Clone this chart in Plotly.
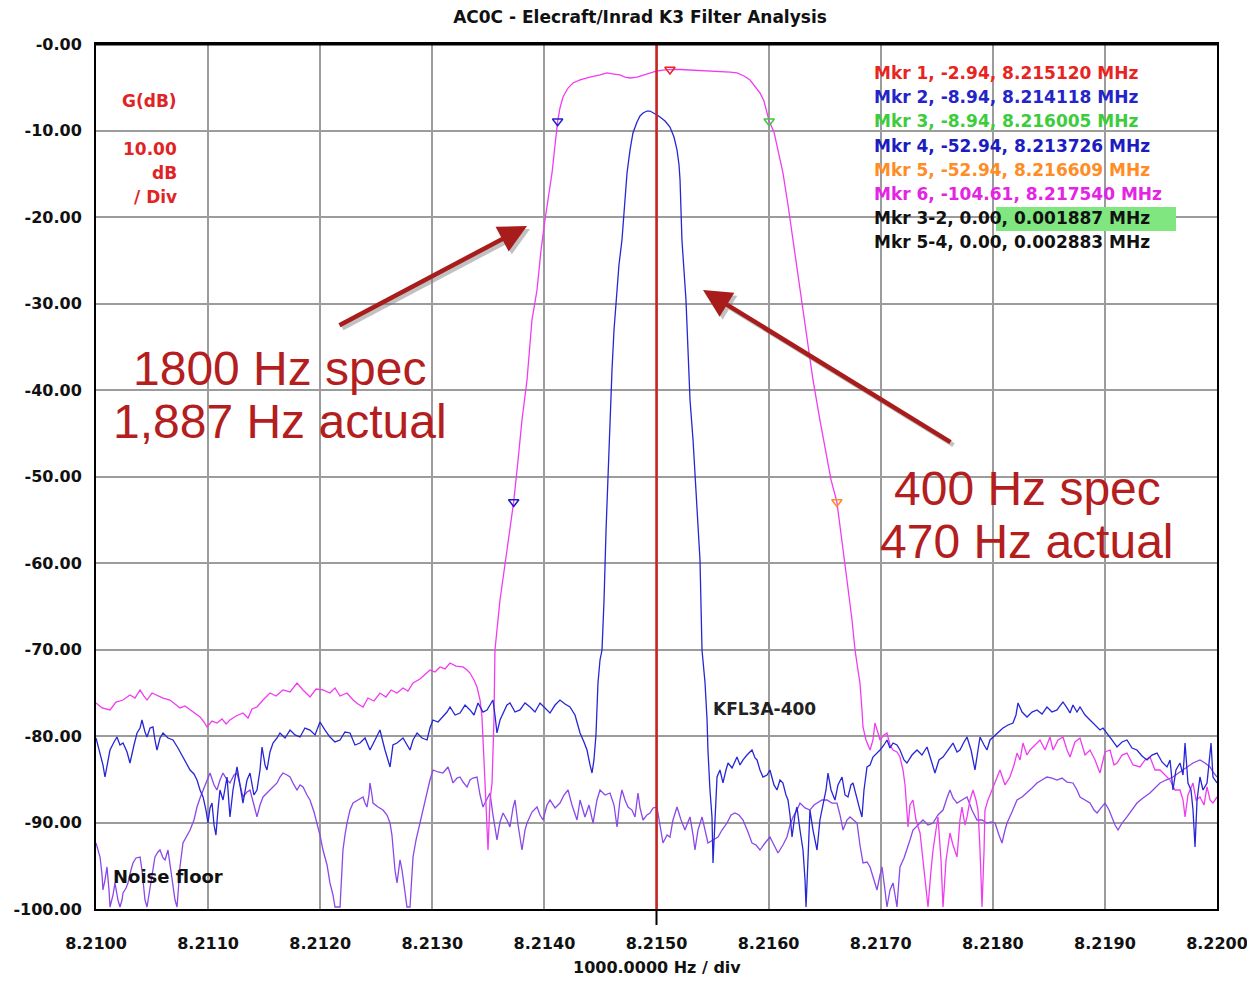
import plotly.graph_objects as go

# ---------------- DATA (frequency in MHz, gain in dB) ----------------
mag_f = [8.210000, 8.210054, 8.210125, 8.210178, 8.210241, 8.210303, 8.210348, 8.210393, 8.210428, 8.210455,
         8.210500, 8.210544, 8.210598, 8.210660, 8.210705, 8.210749, 8.210794, 8.210839, 8.210883, 8.210928,
         8.210963, 8.210990, 8.211035, 8.211079, 8.211124, 8.211160, 8.211195, 8.211249, 8.211311, 8.211356,
         8.211392, 8.211436, 8.211490, 8.211552, 8.211606, 8.211668, 8.211731, 8.211793, 8.211847, 8.211909,
         8.211963, 8.212025, 8.212087, 8.212132, 8.212177, 8.212239, 8.212293, 8.212337, 8.212382, 8.212426,
         8.212480, 8.212533, 8.212587, 8.212632, 8.212685, 8.212739, 8.212783, 8.212828, 8.212890, 8.212935,
         8.212979, 8.213024, 8.213069, 8.213113, 8.213158, 8.213211, 8.213274, 8.213310, 8.213336, 8.213372,
         8.213399, 8.213426, 8.213443, 8.213461, 8.213479, 8.213497, 8.213515, 8.213533, 8.213550, 8.213559,
         8.213604, 8.213657, 8.213726, 8.213765, 8.213800, 8.213845, 8.213889, 8.213934, 8.213970, 8.214005,
         8.214032, 8.214068, 8.214095, 8.214118, 8.214139, 8.214166, 8.214211, 8.214255, 8.214318, 8.214407,
         8.214496, 8.214558, 8.214621, 8.214674, 8.214719, 8.214764, 8.214826, 8.214880, 8.214942, 8.215004,
         8.215058, 8.215120, 8.215210, 8.215299, 8.215388, 8.215477, 8.215566, 8.215656, 8.215718, 8.215781,
         8.215834, 8.215879, 8.215923, 8.215959, 8.216005, 8.216048, 8.216084, 8.216128, 8.216173, 8.216218,
         8.216253, 8.216298, 8.216351, 8.216396, 8.216458, 8.216512, 8.216557, 8.216609, 8.216655, 8.216699,
         8.216744, 8.216771, 8.216797, 8.216815, 8.216833, 8.216842, 8.216869, 8.216905, 8.216931, 8.216949,
         8.216976, 8.216994, 8.217029, 8.217056, 8.217083, 8.217110, 8.217145, 8.217172, 8.217199, 8.217217,
         8.217244, 8.217261, 8.217288, 8.217315, 8.217351, 8.217386, 8.217422, 8.217449, 8.217467, 8.217493,
         8.217511, 8.217538, 8.217556, 8.217583, 8.217618, 8.217645, 8.217681, 8.217707, 8.217725, 8.217752,
         8.217770, 8.217797, 8.217823, 8.217850, 8.217868, 8.217886, 8.217904, 8.217922, 8.217930, 8.217957,
         8.217993, 8.218029, 8.218064, 8.218109, 8.218153, 8.218189, 8.218216, 8.218243, 8.218269, 8.218305,
         8.218332, 8.218377, 8.218421, 8.218466, 8.218510, 8.218537, 8.218582, 8.218626, 8.218662, 8.218689,
         8.218733, 8.218778, 8.218823, 8.218867, 8.218912, 8.218956, 8.219001, 8.219046, 8.219081, 8.219108,
         8.219153, 8.219197, 8.219251, 8.219313, 8.219358, 8.219402, 8.219447, 8.219492, 8.219536, 8.219581,
         8.219625, 8.219670, 8.219697, 8.219715, 8.219741, 8.219786, 8.219813, 8.219848, 8.219884, 8.219911,
         8.219938, 8.219964, 8.220000]
mag_db = [-76.18, -76.76, -76.99, -76.07, -75.84, -75.26, -75.61, -74.68, -75.38, -75.84,
          -75.03, -75.26, -75.61, -75.84, -76.30, -76.76, -76.53, -76.99, -77.34, -77.80,
          -78.38, -78.96, -78.27, -78.50, -78.03, -78.61, -78.15, -77.69, -77.34, -77.92,
          -76.88, -76.65, -75.84, -75.03, -75.38, -74.68, -74.91, -73.87, -74.68, -75.49,
          -74.57, -74.68, -75.03, -74.45, -75.38, -75.03, -75.84, -76.30, -76.65, -75.61,
          -75.95, -75.03, -75.49, -74.68, -75.03, -74.45, -74.80, -73.87, -73.41, -72.83,
          -72.37, -72.60, -72.02, -72.25, -71.56, -71.91, -72.02, -72.37, -72.72, -73.53,
          -74.34, -75.84, -77.80, -82.77, -87.40, -93.18, -87.40, -85.43, -78.15, -70.06,
          -64.28, -59.08, -52.94, -48.09, -43.47, -38.84, -31.91, -28.44, -23.82, -20.35,
          -18.03, -14.91, -11.68, -8.94, -7.40, -6.13, -5.09, -4.51, -4.16, -3.82,
          -3.58, -3.35, -3.47, -3.58, -3.82, -3.93, -3.82, -3.58, -3.35, -3.12,
          -3.01, -2.94, -2.95, -3.01, -3.01, -3.06, -3.12, -3.24, -3.35, -3.70,
          -4.16, -4.86, -5.66, -6.59, -8.94, -10.17, -12.25, -14.91, -18.61, -22.66,
          -25.55, -29.60, -34.22, -38.84, -43.47, -47.51, -50.40, -52.94, -57.34, -61.97,
          -66.59, -70.06, -72.37, -73.87, -76.99, -78.96, -80.46, -81.62, -80.46, -78.50,
          -79.65, -80.46, -79.88, -79.65, -81.04, -81.62, -81.85, -82.43, -83.93, -85.66,
          -90.52, -87.98, -87.40, -89.71, -91.21, -95.49, -99.77, -95.49, -93.18, -90.87,
          -89.36, -94.33, -99.77, -94.33, -91.21, -92.60, -93.99, -89.71, -88.21, -90.29,
          -89.36, -87.40, -86.24, -87.40, -88.56, -93.18, -99.77, -93.18, -88.56, -87.40,
          -86.24, -85.09, -83.93, -85.66, -84.74, -83.35, -81.97, -82.77, -80.81, -82.20,
          -81.62, -81.04, -80.46, -81.62, -80.12, -81.62, -80.46, -80.12, -81.62, -82.43,
          -80.69, -80.23, -82.20, -81.62, -82.77, -84.28, -81.85, -81.62, -83.35, -83.12,
          -82.20, -81.97, -83.35, -83.58, -82.77, -82.43, -83.93, -83.93, -84.51, -85.09,
          -86.24, -86.24, -87.40, -89.36, -86.82, -85.43, -87.40, -87.05, -87.98, -85.89,
          -87.40, -87.75, -87.05]

blue_f = [8.210000, 8.210036, 8.210062, 8.210080, 8.210107, 8.210125, 8.210161, 8.210187, 8.210214, 8.210241,
          8.210277, 8.210303, 8.210339, 8.210366, 8.210393, 8.210410, 8.210437, 8.210455, 8.210482, 8.210508,
          8.210526, 8.210544, 8.210571, 8.210598, 8.210642, 8.210687, 8.210731, 8.210776, 8.210812, 8.210839,
          8.210874, 8.210901, 8.210928, 8.210955, 8.210981, 8.210999, 8.211017, 8.211035, 8.211053, 8.211070,
          8.211088, 8.211106, 8.211133, 8.211169, 8.211195, 8.211222, 8.211258, 8.211285, 8.211311, 8.211347,
          8.211374, 8.211409, 8.211436, 8.211463, 8.211481, 8.211508, 8.211525, 8.211552, 8.211579, 8.211615,
          8.211641, 8.211686, 8.211731, 8.211775, 8.211820, 8.211864, 8.211909, 8.211954, 8.211998, 8.212043,
          8.212087, 8.212132, 8.212177, 8.212221, 8.212266, 8.212310, 8.212355, 8.212400, 8.212444, 8.212489,
          8.212533, 8.212578, 8.212623, 8.212649, 8.212685, 8.212739, 8.212801, 8.212828, 8.212864, 8.212908,
          8.212953, 8.212979, 8.213006, 8.213051, 8.213095, 8.213131, 8.213158, 8.213203, 8.213247, 8.213292,
          8.213336, 8.213372, 8.213408, 8.213452, 8.213488, 8.213515, 8.213541, 8.213559, 8.213577, 8.213604,
          8.213631, 8.213666, 8.213693, 8.213738, 8.213782, 8.213827, 8.213872, 8.213916, 8.213961, 8.214005,
          8.214050, 8.214095, 8.214139, 8.214184, 8.214228, 8.214273, 8.214318, 8.214353, 8.214380, 8.214407,
          8.214425, 8.214442, 8.214460, 8.214478, 8.214496, 8.214514, 8.214532, 8.214550, 8.214567, 8.214585,
          8.214603, 8.214621, 8.214639, 8.214665, 8.214692, 8.214719, 8.214737, 8.214764, 8.214790, 8.214826,
          8.214853, 8.214880, 8.214915, 8.214942, 8.214978, 8.215004, 8.215031, 8.215076, 8.215120, 8.215156,
          8.215183, 8.215201, 8.215210, 8.215227, 8.215245, 8.215263, 8.215281, 8.215299, 8.215326, 8.215343,
          8.215370, 8.215388, 8.215406, 8.215433, 8.215451, 8.215459, 8.215477, 8.215495, 8.215504, 8.215522,
          8.215540, 8.215566, 8.215593, 8.215620, 8.215638, 8.215674, 8.215718, 8.215745, 8.215772, 8.215807,
          8.215852, 8.215879, 8.215897, 8.215923, 8.215950, 8.215986, 8.216012, 8.216048, 8.216075, 8.216102,
          8.216128, 8.216155, 8.216173, 8.216191, 8.216209, 8.216235, 8.216253, 8.216280, 8.216307, 8.216325,
          8.216334, 8.216351, 8.216369, 8.216396, 8.216432, 8.216458, 8.216485, 8.216512, 8.216530, 8.216557,
          8.216592, 8.216619, 8.216655, 8.216682, 8.216708, 8.216735, 8.216753, 8.216789, 8.216815, 8.216833,
          8.216851, 8.216878, 8.216905, 8.216931, 8.216967, 8.216994, 8.217029, 8.217056, 8.217083, 8.217110,
          8.217145, 8.217172, 8.217208, 8.217234, 8.217279, 8.217324, 8.217368, 8.217413, 8.217449, 8.217484,
          8.217520, 8.217556, 8.217600, 8.217645, 8.217681, 8.217707, 8.217743, 8.217770, 8.217806, 8.217841,
          8.217868, 8.217886, 8.217922, 8.217948, 8.217975, 8.218002, 8.218046, 8.218091, 8.218136, 8.218180,
          8.218207, 8.218225, 8.218261, 8.218305, 8.218350, 8.218394, 8.218439, 8.218483, 8.218528, 8.218573,
          8.218599, 8.218626, 8.218662, 8.218689, 8.218715, 8.218751, 8.218778, 8.218823, 8.218867, 8.218912,
          8.218956, 8.218983, 8.219019, 8.219063, 8.219108, 8.219153, 8.219197, 8.219242, 8.219286, 8.219331,
          8.219376, 8.219420, 8.219465, 8.219509, 8.219554, 8.219581, 8.219607, 8.219634, 8.219670, 8.219697,
          8.219715, 8.219741, 8.219768, 8.219786, 8.219804, 8.219822, 8.219848, 8.219875, 8.219911, 8.219929,
          8.219947, 8.219964, 8.220000]
blue_db = [-80.23, -81.97, -83.35, -84.74, -82.77, -81.62, -80.69, -80.12, -81.04, -80.81,
           -81.85, -83.12, -81.04, -79.65, -79.08, -78.15, -79.54, -80.12, -79.08, -78.96,
           -80.46, -81.62, -80.23, -79.65, -80.23, -80.46, -81.39, -82.43, -83.24, -83.93,
           -84.39, -85.09, -86.24, -87.05, -88.56, -90.06, -88.32, -87.75, -90.29, -91.45,
           -88.56, -86.24, -87.40, -84.74, -89.36, -86.24, -83.58, -85.66, -87.75, -85.09,
           -84.28, -86.82, -86.24, -83.93, -81.27, -83.35, -83.93, -81.85, -80.81, -80.23,
           -79.65, -80.23, -79.31, -79.88, -80.12, -79.08, -79.31, -79.88, -78.38, -79.31,
           -80.12, -80.69, -80.46, -79.54, -79.65, -81.04, -80.81, -80.23, -81.62, -80.46,
           -79.31, -81.62, -83.58, -81.04, -80.81, -80.23, -81.62, -80.46, -79.65, -80.23,
           -80.46, -79.08, -78.15, -78.38, -77.80, -77.23, -76.65, -77.57, -77.34, -76.42,
           -76.99, -77.57, -76.18, -77.23, -76.99, -76.42, -75.84, -77.57, -79.65, -78.15,
           -77.34, -76.42, -76.18, -77.23, -76.99, -76.18, -76.65, -77.23, -76.18, -76.76,
           -77.34, -76.42, -75.84, -76.30, -76.65, -77.57, -79.65, -80.69, -81.62, -83.35,
           -84.28, -82.77, -79.88, -73.87, -71.21, -70.06, -64.28, -56.18, -49.94, -43.47,
           -37.69, -33.06, -29.60, -25.55, -22.66, -18.03, -14.91, -12.25, -10.29, -9.02,
           -8.32, -7.98, -7.75, -7.75, -7.98, -8.21, -8.44, -8.90, -9.60, -10.75,
           -12.25, -13.99, -15.72, -22.66, -26.13, -29.60, -35.38, -41.16, -45.78, -49.94,
           -55.03, -59.65, -70.06, -73.87, -78.15, -81.62, -86.24, -89.36, -94.68, -89.71,
           -84.74, -83.93, -85.43, -83.93, -83.12, -83.70, -82.43, -83.35, -82.77, -82.20,
           -81.62, -82.54, -82.77, -83.93, -84.74, -84.51, -83.93, -85.66, -86.24, -85.09,
           -85.43, -86.82, -87.40, -89.13, -91.68, -89.13, -88.21, -90.87, -93.18, -96.65,
           -99.77, -94.33, -88.56, -90.87, -93.18, -89.71, -87.75, -86.24, -84.28, -86.24,
           -87.40, -85.66, -84.74, -86.82, -87.05, -85.66, -85.43, -87.40, -88.56, -89.36,
           -86.24, -83.58, -83.35, -82.43, -81.97, -81.62, -81.04, -80.46, -81.39, -80.81,
           -81.04, -81.62, -82.77, -83.12, -82.20, -81.62, -82.20, -81.27, -82.77, -84.28,
           -82.77, -82.43, -81.62, -80.81, -81.85, -81.62, -80.69, -80.12, -81.62, -83.93,
           -81.62, -80.12, -81.04, -81.62, -80.46, -80.12, -79.65, -79.08, -78.73, -78.50,
           -77.57, -76.18, -77.23, -77.80, -77.23, -76.99, -77.46, -76.65, -77.23, -76.99,
           -76.53, -76.07, -76.76, -77.34, -76.42, -77.23, -76.65, -77.57, -78.15, -78.73,
           -79.31, -79.08, -79.65, -80.46, -81.27, -80.69, -80.46, -81.39, -81.62, -82.31,
           -82.77, -82.20, -81.97, -83.00, -83.58, -82.77, -86.24, -83.93, -83.12, -84.51,
           -80.81, -85.43, -86.24, -88.56, -92.83, -87.40, -84.74, -86.24, -85.43, -82.77,
           -80.81, -84.74, -85.43]

floor_f = [8.210000, 8.210018, 8.210036, 8.210054, 8.210062, 8.210080, 8.210098, 8.210116, 8.210125, 8.210152,
           8.210169, 8.210196, 8.210214, 8.210232, 8.210241, 8.210268, 8.210285, 8.210312, 8.210330, 8.210357,
           8.210393, 8.210410, 8.210419, 8.210437, 8.210455, 8.210473, 8.210482, 8.210508, 8.210526, 8.210553,
           8.210571, 8.210598, 8.210616, 8.210642, 8.210660, 8.210678, 8.210705, 8.210723, 8.210740, 8.210749,
           8.210776, 8.210803, 8.210839, 8.210874, 8.210901, 8.210928, 8.210955, 8.210990, 8.211017, 8.211053,
           8.211079, 8.211106, 8.211133, 8.211169, 8.211195, 8.211231, 8.211258, 8.211285, 8.211311, 8.211347,
           8.211374, 8.211409, 8.211436, 8.211463, 8.211490, 8.211525, 8.211552, 8.211588, 8.211615, 8.211641,
           8.211668, 8.211704, 8.211731, 8.211766, 8.211793, 8.211820, 8.211847, 8.211882, 8.211909, 8.211945,
           8.211971, 8.211998, 8.212025, 8.212061, 8.212087, 8.212114, 8.212132, 8.212159, 8.212177, 8.212194,
           8.212203, 8.212221, 8.212239, 8.212266, 8.212293, 8.212337, 8.212382, 8.212400, 8.212417, 8.212435,
           8.212444, 8.212462, 8.212471, 8.212516, 8.212560, 8.212596, 8.212623, 8.212640, 8.212649, 8.212667,
           8.212685, 8.212703, 8.212712, 8.212730, 8.212739, 8.212756, 8.212774, 8.212801, 8.212819, 8.212828,
           8.212855, 8.212890, 8.212917, 8.212953, 8.212979, 8.213006, 8.213051, 8.213095, 8.213140, 8.213158,
           8.213185, 8.213220, 8.213247, 8.213274, 8.213310, 8.213336, 8.213363, 8.213399, 8.213426, 8.213452,
           8.213488, 8.213515, 8.213541, 8.213577, 8.213604, 8.213631, 8.213666, 8.213693, 8.213720, 8.213738,
           8.213765, 8.213800, 8.213827, 8.213845, 8.213889, 8.213934, 8.213961, 8.213988, 8.214023, 8.214050,
           8.214095, 8.214139, 8.214175, 8.214211, 8.214246, 8.214291, 8.214318, 8.214362, 8.214398, 8.214434,
           8.214469, 8.214496, 8.214541, 8.214585, 8.214621, 8.214648, 8.214674, 8.214692, 8.214719, 8.214746,
           8.214781, 8.214808, 8.214835, 8.214853, 8.214880, 8.214915, 8.214942, 8.214969, 8.215004, 8.215031,
           8.215058, 8.215094, 8.215120, 8.215147, 8.215183, 8.215219, 8.215254, 8.215281, 8.215299, 8.215326,
           8.215343, 8.215370, 8.215406, 8.215433, 8.215459, 8.215504, 8.215549, 8.215584, 8.215629, 8.215665,
           8.215700, 8.215736, 8.215772, 8.215816, 8.215852, 8.215888, 8.215923, 8.215968, 8.216012, 8.216048,
           8.216084, 8.216128, 8.216164, 8.216191, 8.216218, 8.216253, 8.216280, 8.216325, 8.216369, 8.216405,
           8.216432, 8.216476, 8.216521, 8.216566, 8.216610, 8.216637, 8.216664, 8.216699, 8.216726, 8.216762,
           8.216789, 8.216815, 8.216842, 8.216878, 8.216905, 8.216940, 8.216967, 8.216994, 8.217012, 8.217038,
           8.217056, 8.217083, 8.217110, 8.217128, 8.217145, 8.217163, 8.217172, 8.217208, 8.217234, 8.217261,
           8.217288, 8.217333, 8.217377, 8.217422, 8.217467, 8.217511, 8.217556, 8.217591, 8.217618, 8.217645,
           8.217681, 8.217725, 8.217770, 8.217814, 8.217859, 8.217904, 8.217948, 8.217984, 8.218020, 8.218055,
           8.218082, 8.218109, 8.218127, 8.218171, 8.218216, 8.218261, 8.218305, 8.218350, 8.218394, 8.218439,
           8.218483, 8.218528, 8.218573, 8.218617, 8.218662, 8.218715, 8.218751, 8.218778, 8.218823, 8.218867,
           8.218903, 8.218930, 8.218965, 8.219001, 8.219037, 8.219063, 8.219090, 8.219117, 8.219153, 8.219197,
           8.219242, 8.219286, 8.219340, 8.219402, 8.219447, 8.219492, 8.219545, 8.219607, 8.219670, 8.219732,
           8.219786, 8.219848, 8.219893, 8.219938, 8.219964, 8.220000]
floor_db = [-92.37, -93.18, -93.99, -96.07, -97.80, -96.65, -95.14, -97.80, -99.77, -98.38,
            -96.99, -98.96, -99.77, -98.96, -98.15, -97.57, -96.99, -95.49, -94.68, -94.10,
            -93.99, -95.49, -96.99, -98.96, -99.77, -98.38, -97.80, -95.49, -93.99, -93.41,
            -93.18, -94.10, -94.33, -93.18, -94.91, -96.99, -98.96, -99.77, -96.65, -95.14,
            -92.37, -91.79, -90.87, -89.71, -88.21, -87.17, -86.24, -85.09, -84.28, -85.66,
            -86.24, -85.09, -84.28, -85.09, -85.43, -84.51, -84.28, -85.66, -87.05, -86.47,
            -86.24, -87.98, -89.36, -87.98, -87.05, -86.59, -86.24, -85.78, -85.43, -84.74,
            -84.28, -84.51, -84.74, -85.66, -86.24, -85.66, -85.90, -86.82, -87.40, -88.79,
            -90.06, -91.45, -93.18, -94.91, -96.99, -98.38, -99.77, -99.77, -99.77, -95.49,
            -93.18, -91.45, -90.06, -88.56, -87.75, -87.40, -87.05, -87.75, -88.21, -86.82,
            -85.43, -86.82, -87.75, -88.21, -88.56, -89.13, -90.06, -91.45, -93.18, -95.49,
            -96.99, -95.26, -94.33, -95.49, -96.30, -98.38, -99.77, -99.77, -96.07, -93.99,
            -92.02, -90.06, -88.32, -86.59, -85.09, -83.93, -84.16, -84.28, -83.58, -84.28,
            -85.43, -84.86, -84.74, -85.32, -85.90, -85.09, -84.86, -84.74, -86.82, -88.21,
            -87.17, -86.59, -89.13, -92.02, -89.94, -88.90, -89.71, -90.52, -88.32, -87.40,
            -90.29, -93.18, -90.87, -90.06, -88.79, -88.21, -89.13, -89.71, -87.98, -87.40,
            -88.32, -87.75, -86.82, -86.24, -87.98, -89.71, -87.40, -89.36, -87.98, -90.06,
            -87.40, -86.24, -86.82, -86.59, -87.98, -90.52, -87.40, -86.24, -87.40, -88.21,
            -88.56, -89.36, -86.59, -88.32, -89.71, -89.13, -88.90, -88.32, -88.21, -90.29,
            -92.37, -91.45, -91.68, -89.71, -88.21, -89.71, -90.87, -89.94, -89.36, -91.45,
            -93.18, -90.87, -89.36, -90.87, -92.37, -92.02, -91.68, -90.87, -90.06, -89.13,
            -88.90, -89.13, -89.71, -91.10, -92.37, -92.60, -93.18, -92.37, -91.68, -92.60,
            -93.53, -92.60, -91.68, -90.29, -89.36, -88.56, -87.75, -88.32, -88.56, -87.98,
            -87.75, -87.40, -87.40, -87.75, -87.75, -89.13, -90.87, -89.71, -89.36, -89.71,
            -90.06, -92.60, -94.68, -94.57, -95.14, -96.65, -97.80, -96.07, -95.14, -97.80,
            -99.77, -97.80, -96.99, -98.38, -99.77, -96.65, -95.14, -94.10, -93.18, -92.02,
            -90.87, -90.29, -89.71, -90.29, -90.06, -89.13, -88.56, -87.17, -86.24, -87.17,
            -87.75, -87.40, -87.05, -88.56, -89.71, -89.71, -90.06, -89.94, -90.06, -91.45,
            -92.37, -90.87, -90.06, -88.79, -87.40, -87.05, -86.59, -86.01, -85.43, -85.09,
            -84.74, -84.86, -85.09, -84.86, -85.32, -85.43, -86.24, -87.05, -87.40, -87.75,
            -88.56, -88.90, -88.32, -87.75, -88.56, -89.36, -90.29, -90.87, -90.06, -89.36,
            -88.56, -87.75, -87.17, -86.59, -86.01, -85.43, -85.09, -84.74, -84.16, -83.58,
            -83.12, -82.77, -83.12, -83.58, -84.16, -84.74]

# marker readouts
mkr_names = ["Mkr 1", "Mkr 2", "Mkr 3", "Mkr 4", "Mkr 5", "Mkr 6"]
mkr_db = [-2.94, -8.94, -8.94, -52.94, -52.94, -104.61]
mkr_f = [8.215120, 8.214118, 8.216005, 8.213726, 8.216609, 8.217540]
mkr_colors = ["#e8241f", "#2424c8", "#3ccc3c", "#1c1cc0", "#ff8c24", "#e424e4"]
delta_names = ["Mkr 3-2", "Mkr 5-4"]
delta_db = [0.00, 0.00]
delta_f = [0.001887, 0.002883]

x_ticks = [8.2100, 8.2110, 8.2120, 8.2130, 8.2140, 8.2150, 8.2160, 8.2170, 8.2180, 8.2190, 8.2200]
x_ticktext = ["8.2100", "8.2110", "8.2120", "8.2130", "8.2140", "8.2150", "8.2160", "8.2170",
              "8.2180", "8.2190", "8.2200"]
y_ticks = [0, -10, -20, -30, -40, -50, -60, -70, -80, -90, -100]
y_ticktext = ["-0.00", "-10.00", "-20.00", "-30.00", "-40.00", "-50.00", "-60.00", "-70.00",
              "-80.00", "-90.00", "-100.00"]
x_title = "1000.0000 Hz / div"
center_f = 8.2150

# ---------------- layout helpers (page pixel -> axis position for text placement) ----------------
PAGE_OFF = 8            # default body margin of the html page
L, R, T, B = 96, 1217, 44, 909   # plot area in page pixels
FIG_W, FIG_H = 1255 - 2 * PAGE_OFF, 987 - 2 * PAGE_OFF

def px2x(px):
    return 8.21 + (px - L) / (R - L) * 0.01

def py2y(py):
    return -(py - T) / (B - T) * 100.0

FONT = "DejaVu Sans"
BIGFONT = "Liberation Sans"
MAG = "#f03cf0"
BLUE = "#2626d6"
PURP = "#8a48e8"

fig = go.Figure()

fig.add_trace(go.Scatter(x=floor_f, y=floor_db, mode="lines",
                         line=dict(color=PURP, width=1.3), hoverinfo="skip", showlegend=False))
fig.add_trace(go.Scatter(x=mag_f, y=mag_db, mode="lines",
                         line=dict(color=MAG, width=1.3), hoverinfo="skip", showlegend=False))
fig.add_trace(go.Scatter(x=blue_f, y=blue_db, mode="lines",
                         line=dict(color=BLUE, width=1.3), hoverinfo="skip", showlegend=False))

fig.add_trace(go.Scatter(x=mkr_f[:5], y=mkr_db[:5], mode="markers",
                         marker=dict(symbol="triangle-down-open", size=9,
                                     color=mkr_colors[:5], line=dict(width=1.5)),
                         hoverinfo="skip", showlegend=False))

shapes = []
shapes.append(dict(type="line", xref="x", yref="paper", x0=center_f, x1=center_f, y0=0, y1=1,
                   line=dict(color="#cc2222", width=2.5), layer="above"))
shapes.append(dict(type="line", xref="x", yref="paper", x0=center_f, x1=center_f,
                   y0=0, y1=-16 / (B - T), line=dict(color="black", width=2)))
shapes.append(dict(type="line", xref="paper", yref="paper", x0=0, x1=1, y0=1, y1=1,
                   line=dict(color="black", width=3)))
shapes.append(dict(type="rect", xref="x", yref="y", x0=px2x(996), x1=px2x(1176),
                   y0=py2y(207), y1=py2y(231), fillcolor="#80e680", line=dict(width=0), layer="above"))

annotations = []
lines = []
for n, d, f in zip(mkr_names, mkr_db, mkr_f):
    lines.append(f"{n}, {d:.2f}, {f:.6f} MHz")
for n, d, f in zip(delta_names, delta_db, delta_f):
    lines.append(f"{n}, {d:.2f}, {f:.6f} MHz")
line_colors = mkr_colors + ["#111111", "#111111"]
for i, (txt, col) in enumerate(zip(lines, line_colors)):
    annotations.append(dict(x=px2x(872), y=py2y(73 + i * 24.2), xref="x", yref="y",
                            text=txt, showarrow=False, xanchor="left", yanchor="middle",
                            font=dict(family=FONT, size=17, color=col, weight="bold")))

for txt, py in [("G(dB)", 101), ("10.00", 149), ("dB", 173), ("/ Div", 197)]:
    annotations.append(dict(x=px2x(179), y=py2y(py), xref="x", yref="y", text=txt,
                            showarrow=False, xanchor="right", yanchor="middle",
                            font=dict(family=FONT, size=17, color="#e02424", weight="bold")))

annotations.append(dict(x=px2x(111), y=py2y(876), xref="x", yref="y", text="Noise floor",
                        showarrow=False, xanchor="left", yanchor="middle",
                        font=dict(family=FONT, size=18, color="#111111", weight="bold")))
annotations.append(dict(x=px2x(711), y=py2y(709), xref="x", yref="y", text="KFL3A-400",
                        showarrow=False, xanchor="left", yanchor="middle",
                        font=dict(family=FONT, size=17, color="#222222", weight="bold")))

# x-axis title placed as paper-referenced text (kept fully inside the figure)
annotations.append(dict(x=(657 - L) / (R - L), y=(B - 967) / (B - T), xref="paper", yref="paper",
                        text=x_title, showarrow=False, xanchor="center", yanchor="middle",
                        font=dict(family=FONT, size=16, color="#111111", weight="bold")))

BIG = "#b41e1e"
for txt, cx, cy in [("1800 Hz spec", 280, 368), ("1,887 Hz actual", 280, 421),
                    ("400 Hz spec", 1027, 488), ("470 Hz actual", 1027, 541)]:
    annotations.append(dict(x=px2x(cx), y=py2y(cy), xref="x", yref="y", text=txt,
                            showarrow=False, xanchor="center", yanchor="middle",
                            font=dict(family=BIGFONT, size=48, color=BIG)))

for (hx, hy, tx, ty) in [(527, 226, 338, 326), (703, 290, 952, 443)]:
    annotations.append(dict(x=px2x(hx + 3), y=py2y(hy + 3), xref="x", yref="y",
                            ax=px2x(tx + 3), ay=py2y(ty + 3), axref="x", ayref="y",
                            text="", showarrow=True, arrowhead=2, arrowsize=1.25,
                            arrowwidth=4.5, arrowcolor="rgba(120,120,120,0.45)"))
    annotations.append(dict(x=px2x(hx), y=py2y(hy), xref="x", yref="y",
                            ax=px2x(tx), ay=py2y(ty), axref="x", ayref="y",
                            text="", showarrow=True, arrowhead=2, arrowsize=1.25,
                            arrowwidth=4.5, arrowcolor="#a81c1c"))

fig.update_layout(
    width=FIG_W, height=FIG_H,
    margin=dict(l=L - PAGE_OFF, r=FIG_W - (R - PAGE_OFF), t=T - PAGE_OFF, b=FIG_H - (B - PAGE_OFF),
                autoexpand=False),
    paper_bgcolor="white", plot_bgcolor="white",
    title=dict(text="AC0C - Elecraft/Inrad K3 Filter Analysis", x=(640 - PAGE_OFF) / FIG_W,
               xanchor="center", y=1 - (17 - PAGE_OFF) / FIG_H, yanchor="middle", yref="container",
               font=dict(family=FONT, size=17, color="#111111", weight="bold")),
    shapes=shapes, annotations=annotations,
    xaxis=dict(range=[8.21, 8.22], tickvals=x_ticks, ticktext=x_ticktext,
               showgrid=True, gridcolor="#9c9c9c", gridwidth=1.5,
               showline=True, linecolor="black", linewidth=2, mirror=True,
               ticks="", ticklabelstandoff=19, zeroline=False, automargin=False,
               ticklabeloverflow="allow",
               tickfont=dict(family=FONT, size=16, color="#111111", weight="bold")),
    yaxis=dict(range=[-100, 0], tickvals=y_ticks, ticktext=y_ticktext,
               showgrid=True, gridcolor="#9c9c9c", gridwidth=1.5,
               showline=True, linecolor="black", linewidth=2, mirror=True,
               ticks="", ticklabelstandoff=9, zeroline=False, automargin=False,
               tickfont=dict(family=FONT, size=16, color="#111111", weight="bold")),
)

fig.write_html("out.html")
